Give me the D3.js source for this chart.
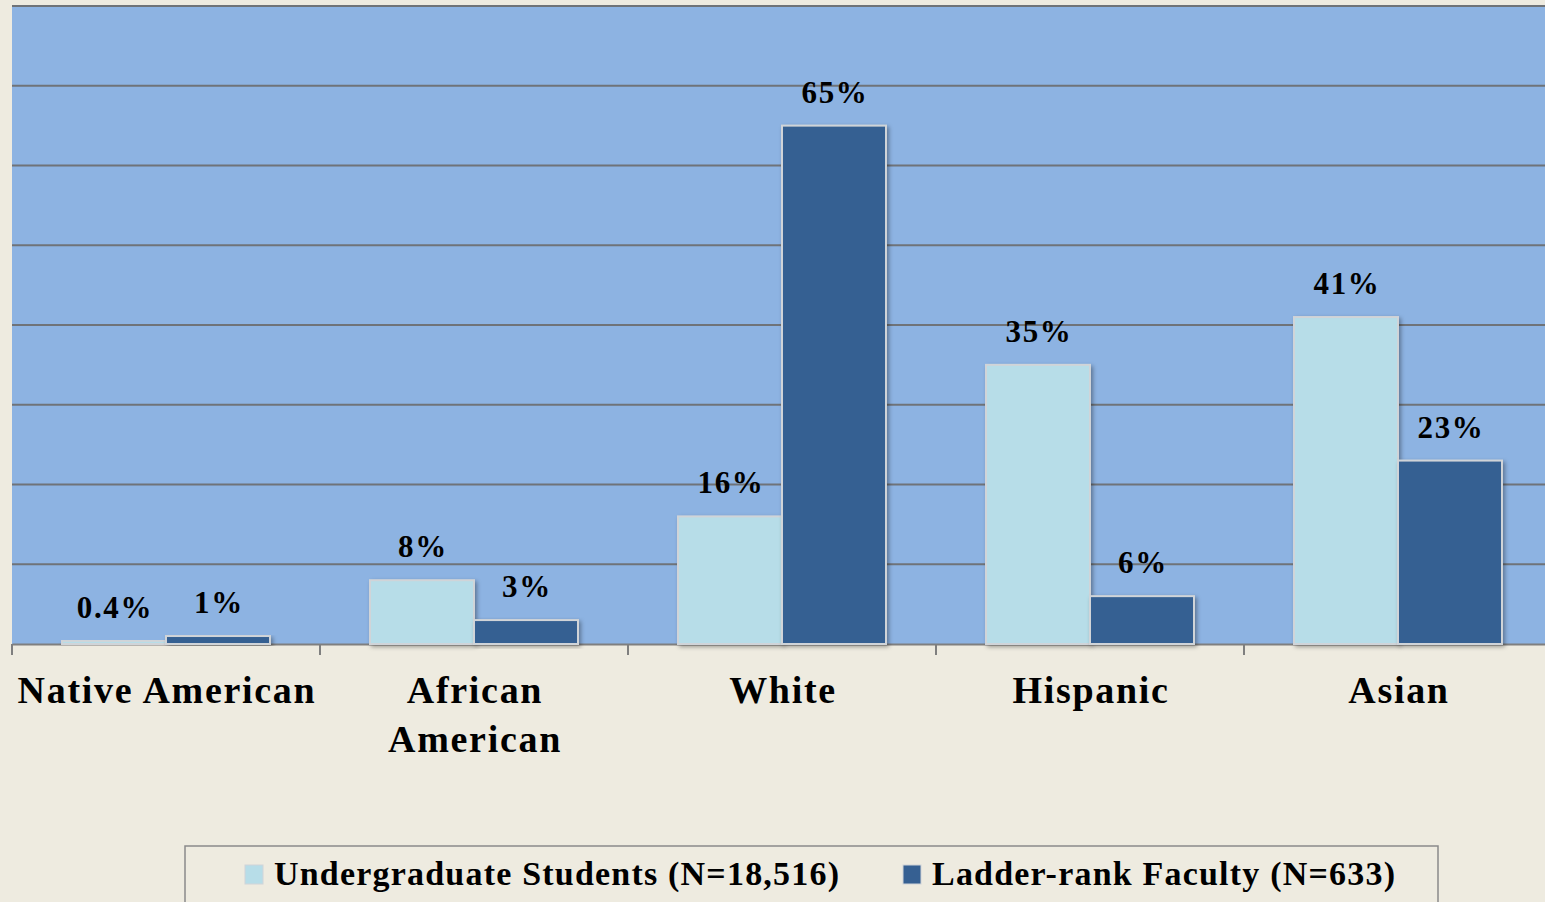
<!DOCTYPE html>
<html><head><meta charset="utf-8">
<script src="https://cdn.jsdelivr.net/npm/d3@7/dist/d3.min.js"></script>
<style>
html,body{margin:0;padding:0;background:#EEEBE0;overflow:hidden;}
svg{display:block;}
text{font-family:"Liberation Serif","Times New Roman",serif;font-weight:bold;fill:#000;}
</style></head>
<body>
<script>
const categories = ["Native American", "African American", "White", "Hispanic", "Asian"];
const categoryLines = [["Native American"], ["African", "American"], ["White"], ["Hispanic"], ["Asian"]];
const seriesNames = ["Undergraduate Students (N=18,516)", "Ladder-rank Faculty (N=633)"];
const undergrad = [0.4, 8, 16, 35, 41];
const faculty = [1, 3, 65, 6, 23];
const undergradLabels = ["0.4%", "8%", "16%", "35%", "41%"];
const facultyLabels = ["1%", "3%", "65%", "6%", "23%"];
const yTicks = [0, 10, 20, 30, 40, 50, 60, 70, 80];

const W = 1545, H = 902;
const colors = ["#B7DDE8", "#366092"];
const svg = d3.select("body").append("svg").attr("width", W).attr("height", H);

const defs = svg.append("defs");
const f = defs.append("filter").attr("id","sh").attr("x","-10%").attr("y","-10%").attr("width","130%").attr("height","130%");
f.append("feDropShadow").attr("dx",2).attr("dy",2).attr("stdDeviation",2).attr("flood-color","#000").attr("flood-opacity",0.35);

const pLeft = 12, pRight = 1552, pTop = 6, pBottom = 644;
const x = d3.scaleBand().domain(categories).range([pLeft, pRight]).padding(0);
const inner = d3.scaleBand().domain([0,1]).range([50, 258]).padding(0);
const y = d3.scaleLinear().domain([0, 80]).range([pBottom, pTop]);

// plot area
svg.append("rect").attr("x", pLeft).attr("y", y(80)).attr("width", W - pLeft).attr("height", pBottom - y(80)).attr("fill", "#8DB3E2");

// gridlines
svg.append("g").selectAll("line").data(yTicks.filter(d => d > 0)).join("line")
  .attr("x1", pLeft).attr("x2", W).attr("y1", d => y(d)).attr("y2", d => y(d))
  .attr("stroke", "#6f7378").attr("stroke-width", 2);

// x axis
const xAxis = svg.append("g").attr("transform", `translate(0,${pBottom})`)
  .call(d3.axisBottom(x).tickSize(0).tickFormat(""));
xAxis.select(".domain").attr("stroke", "#7f7f7f").attr("stroke-width", 2);
svg.append("g").selectAll("line").data(categories).join("line")
  .attr("x1", d => x(d)).attr("x2", d => x(d)).attr("y1", pBottom).attr("y2", pBottom + 11)
  .attr("stroke", "#7f7f7f").attr("stroke-width", 2);

// bars
const series = [undergrad, faculty];
const labels = [undergradLabels, facultyLabels];
series.forEach((vals, si) => {
  const g = svg.append("g");
  g.selectAll("rect").data(vals).join("rect")
    .attr("x", (d, i) => x(categories[i]) + inner(si))
    .attr("y", d => y(d))
    .attr("width", inner.bandwidth())
    .attr("height", d => pBottom - y(d))
    .attr("fill", colors[si])
    .attr("stroke", "#d0d4d8").attr("stroke-width", 2)
    .attr("filter", "url(#sh)");
});
series.forEach((vals, si) => {
  svg.append("g").selectAll("text").data(vals).join("text")
    .attr("x", (d, i) => x(categories[i]) + inner(si) + inner.bandwidth() / 2 + 1)
    .attr("y", d => y(d) - 23)
    .attr("text-anchor", "middle")
    .attr("font-size", 31)
    .attr("letter-spacing", 1.7)
    .text((d, i) => labels[si][i]);
});

// category labels
const cl = svg.append("g");
categories.forEach((c, i) => {
  const t = cl.append("text").attr("text-anchor", "middle").attr("font-size", 38)
    .attr("letter-spacing", 1.7)
    .attr("x", x(c) + x.bandwidth() / 2 + 1).attr("y", 703);
  categoryLines[i].forEach((ln, j) => {
    t.append("tspan").attr("x", x(c) + x.bandwidth() / 2 + 1).attr("dy", j === 0 ? 0 : 49).text(ln);
  });
});

// legend
svg.append("rect").attr("x", 185).attr("y", 846).attr("width", 1253).attr("height", 80)
  .attr("fill", "none").attr("stroke", "#8a8a8a").attr("stroke-width", 1.5);
const legX = [245, 903];
seriesNames.forEach((n, i) => {
  svg.append("rect").attr("x", legX[i]).attr("y", 865).attr("width", 18).attr("height", 19)
    .attr("fill", colors[i]).attr("stroke", "#d0d4d8").attr("stroke-width", 1);
  svg.append("text").attr("x", legX[i] + 29).attr("y", 885).attr("font-size", 34)
    .attr("letter-spacing", 1.2).text(n);
});
</script>
</body></html>
